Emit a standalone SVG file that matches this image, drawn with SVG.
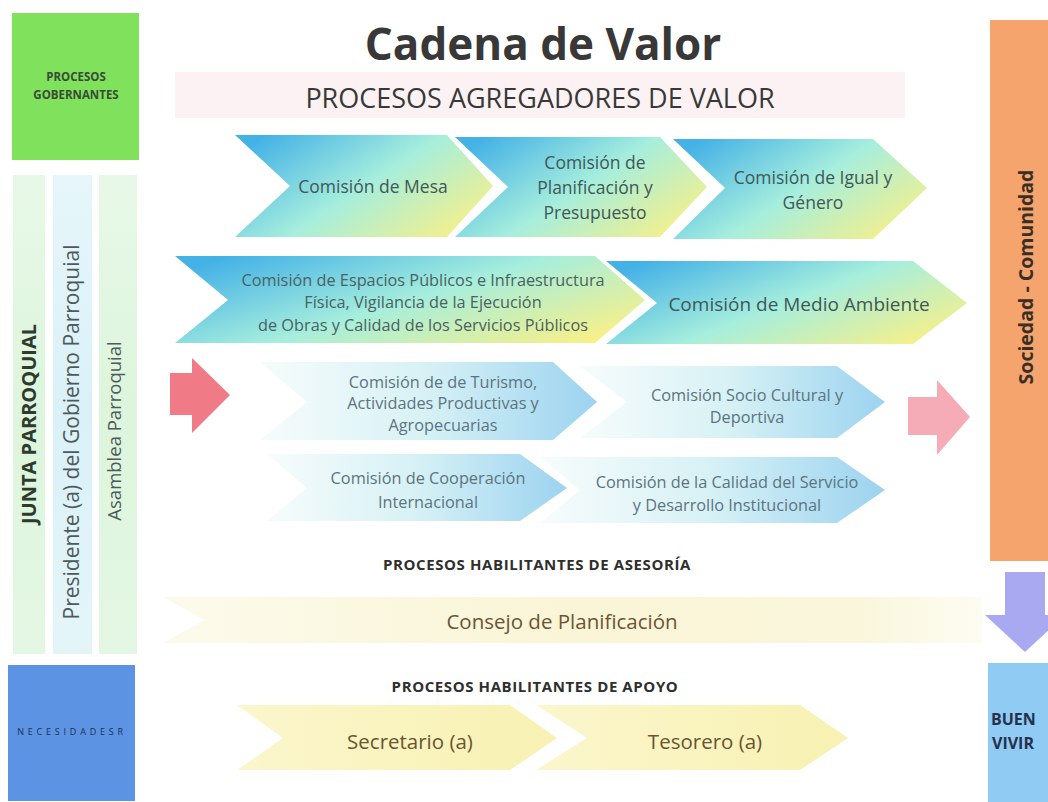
<svg xmlns="http://www.w3.org/2000/svg" width="1048" height="802" viewBox="0 0 1048 802">
<defs>
<linearGradient id="gA" x1="0" y1="0.2" x2="1" y2="0.8">
<stop offset="0" stop-color="#45B2E6"/>
<stop offset="0.5" stop-color="#A6EEDD"/>
<stop offset="1" stop-color="#F8F088"/>
</linearGradient>
<linearGradient id="gB" x1="0" y1="0" x2="1" y2="0">
<stop offset="0" stop-color="#F7FCFC"/>
<stop offset="0.5" stop-color="#D6F1F5"/>
<stop offset="1" stop-color="#9CD3F0"/>
</linearGradient>
<linearGradient id="gY" x1="0" y1="0" x2="1" y2="0">
<stop offset="0" stop-color="#FBF6CC"/>
<stop offset="1" stop-color="#F8F1B2"/>
</linearGradient>
<linearGradient id="gC" x1="0" y1="0" x2="1" y2="0">
<stop offset="0" stop-color="#FCFAEB"/>
<stop offset="0.5" stop-color="#FAF5D6"/>
<stop offset="0.85" stop-color="#FAF6DC"/>
<stop offset="1" stop-color="#FDFCF2"/>
</linearGradient>
<linearGradient id="gG" x1="0" y1="0" x2="0" y2="1">
<stop offset="0" stop-color="#E8F8E8"/>
<stop offset="0.5" stop-color="#DCF5DC"/>
<stop offset="1" stop-color="#E4F7E4"/>
</linearGradient>
<linearGradient id="gL" x1="0" y1="0" x2="0" y2="1">
<stop offset="0" stop-color="#E6F6FA"/>
<stop offset="0.5" stop-color="#DAF1F8"/>
<stop offset="1" stop-color="#E4F5F8"/>
</linearGradient>
<style>
text{font-family:"Open Sans","Liberation Sans",sans-serif;}
.c1{font-size:17.5px;fill:#3F5858;text-anchor:middle;}
.c2{font-size:16.3px;fill:#5C7480;text-anchor:middle;}
.c3{font-size:16.3px;fill:#4A6262;text-anchor:middle;}
.h{font-size:15px;font-weight:bold;letter-spacing:0.6px;fill:#2E2E2E;text-anchor:middle;}
.y{font-size:20.5px;fill:#6A5434;text-anchor:middle;}
.v{fill:#4E5A5A;text-anchor:middle;}
</style>
</defs>
<rect width="1048" height="802" fill="#FFFFFF"/>

<g id="header">
<rect x="175" y="72" width="730" height="46" fill="#FCF2F4"/>
<text x="543" y="60" text-anchor="middle" font-size="44" font-weight="bold" fill="#383838">Cadena de Valor</text>
<text x="540" y="108" text-anchor="middle" font-size="27" fill="#383838">PROCESOS AGREGADORES DE VALOR</text>
</g>

<g id="gobernantes">
<rect x="12" y="13" width="127" height="147" fill="#80E25C"/>
<text x="76" y="81" text-anchor="middle" font-size="11.5" font-weight="bold" fill="#3A4A38">PROCESOS</text>
<text x="76" y="99" text-anchor="middle" font-size="11.5" font-weight="bold" fill="#3A4A38">GOBERNANTES</text>
</g>

<g id="junta">
<rect x="13" y="175" width="32" height="479" fill="url(#gG)"/>
<text transform="translate(36,424) rotate(-90)" text-anchor="middle" font-size="20" font-weight="bold" fill="#2E3A2E">JUNTA PARROQUIAL</text>
</g>
<g id="presidente">
<rect x="53" y="175" width="39" height="479" fill="url(#gL)"/>
<text transform="translate(79,432) rotate(-90)" class="v" font-size="21">Presidente (a) del Gobierno Parroquial</text>
</g>
<g id="asamblea">
<rect x="99" y="175" width="38" height="479" fill="url(#gG)"/>
<text transform="translate(121,431) rotate(-90)" class="v" font-size="18.5">Asamblea Parroquial</text>
</g>

<g id="necesidades">
<rect x="8" y="665" width="127" height="136" fill="#5C93E3"/>
<text x="72" y="735" text-anchor="middle" font-size="9" letter-spacing="3.8" fill="#1E2E55">NECESIDADESR</text>
</g>

<g id="sociedad">
<rect x="990" y="20" width="58" height="541" fill="#F4A46C"/>
<text transform="translate(1033,277) rotate(-90)" text-anchor="middle" font-size="19.5" font-weight="bold" fill="#3A2E26">Sociedad - Comunidad</text>
</g>

<g id="buenvivir">
<rect x="988" y="663" width="60" height="139" fill="#8FCBF2"/>
<text x="991" y="725" font-size="16" font-weight="bold" fill="#26304E">BUEN</text>
<text x="992" y="749" font-size="16" font-weight="bold" fill="#26304E">VIVIR</text>
</g>

<g id="connectors">
<path d="M170,373 L192,373 L192,358 L230,395 L192,433 L192,415 L170,415 Z" fill="#F07B87"/>
<path d="M908,397 L937,397 L937,380 L970,417 L937,455 L937,435 L908,435 Z" fill="#F6ACB7"/>
<path d="M1005,572 L1045,572 L1045,615 L1065,615 L1025,652 L985,615 L1005,615 Z" fill="#A9A9F1"/>
</g>

<g id="mesa">
<path d="M235,135 L447,135 L493,186 L447,237 L235,237 L290,186 Z" fill="url(#gA)"/>
<text x="373" y="193" class="c1">Comisión de Mesa</text>
</g>
<g id="planificacion">
<path d="M455,137 L660,137 L707,187 L660,237 L455,237 L508,187 Z" fill="url(#gA)"/>
<text x="595" y="169" class="c1">Comisión de</text>
<text x="595" y="194" class="c1">Planificación y</text>
<text x="595" y="219" class="c1">Presupuesto</text>
</g>
<g id="igual">
<path d="M673,139 L873,139 L927,188 L873,239 L673,239 L725,188 Z" fill="url(#gA)"/>
<text x="813" y="184" class="c1">Comisión de Igual y</text>
<text x="813" y="209" class="c1">Género</text>
</g>
<g id="espacios">
<path d="M175,256 L595,256 L645,300 L595,343 L175,343 L228,300 Z" fill="url(#gA)"/>
<text x="423" y="286" class="c3">Comisión de Espacios Públicos e Infraestructura</text>
<text x="423" y="308" class="c3">Física, Vigilancia de la Ejecución</text>
<text x="423" y="331" class="c3">de Obras y Calidad de los Servicios Públicos</text>
</g>
<g id="ambiente">
<path d="M606,261 L913,261 L967,303 L913,344 L606,344 L657,303 Z" fill="url(#gA)"/>
<text x="799" y="311" class="c1" style="font-size:19px">Comisión de Medio Ambiente</text>
</g>
<g id="turismo">
<path d="M260,362 L553,362 L597,402 L553,440 L260,440 L307,402 Z" fill="url(#gB)"/>
<text x="443" y="388" class="c2">Comisión de de Turismo,</text>
<text x="443" y="409" class="c2">Actividades Productivas y</text>
<text x="443" y="431" class="c2">Agropecuarias</text>
</g>
<g id="socio">
<path d="M580,366 L837,366 L885,402 L837,438 L580,438 L627,402 Z" fill="url(#gB)"/>
<text x="747" y="401" class="c2">Comisión Socio Cultural y</text>
<text x="747" y="423" class="c2">Deportiva</text>
</g>
<g id="cooperacion">
<path d="M267,454 L520,454 L567,488 L520,521 L267,521 L307,488 Z" fill="url(#gB)"/>
<text x="428" y="484" class="c2">Comisión de Cooperación</text>
<text x="428" y="508" class="c2">Internacional</text>
</g>
<g id="calidad">
<path d="M540,457 L837,457 L885,490 L837,523 L540,523 L580,490 Z" fill="url(#gB)"/>
<text x="727" y="488" class="c2">Comisión de la Calidad del Servicio</text>
<text x="727" y="511" class="c2">y Desarrollo Institucional</text>
</g>

<g id="asesoria">
<text x="537" y="570" class="h">PROCESOS HABILITANTES DE ASESORÍA</text>
</g>
<g id="consejo">
<path d="M163,597 L982,597 L982,643 L163,643 L205,620 Z" fill="url(#gC)"/>
<text x="562" y="629" class="y">Consejo de Planificación</text>
</g>
<g id="apoyo">
<text x="535" y="692" class="h">PROCESOS HABILITANTES DE APOYO</text>
</g>
<g id="secretario">
<path d="M237,705 L510,705 L557,738 L510,770 L237,770 L283,738 Z" fill="url(#gY)"/>
<text x="410" y="749" class="y">Secretario (a)</text>
</g>
<g id="tesorero">
<path d="M536,705 L800,705 L848,738 L800,770 L536,770 L587,738 Z" fill="url(#gY)"/>
<text x="705" y="749" class="y">Tesorero (a)</text>
</g>
</svg>
